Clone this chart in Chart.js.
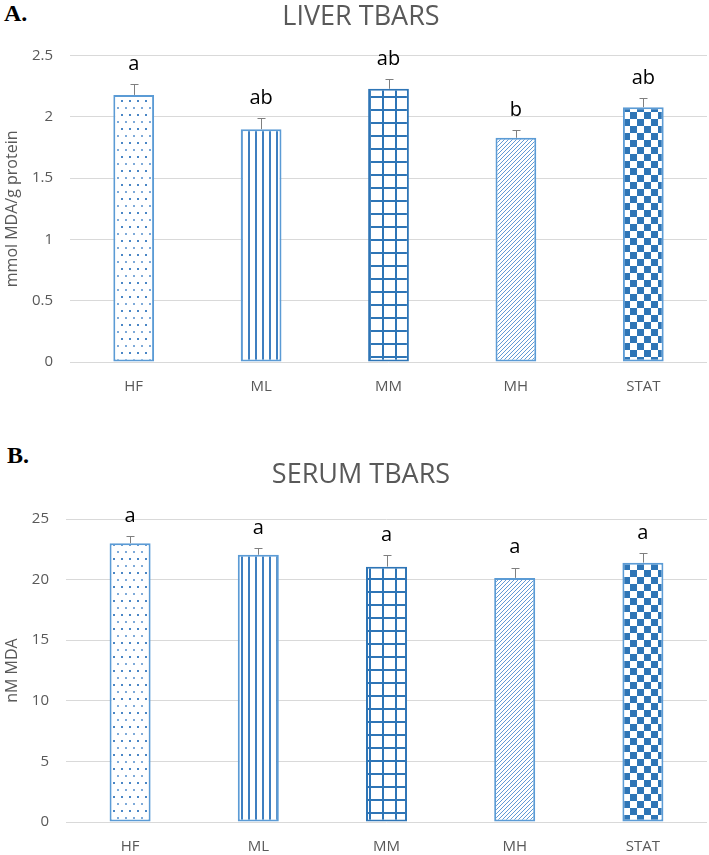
<!DOCTYPE html>
<html lang="en">
<head>
  <meta charset="UTF-8">
  <title>TBARS</title>
  <script src="https://cdn.jsdelivr.net/npm/chart.js"></script>
  <style>
    body {
      margin: 0;
      background: #fff;
      width: 709px;
      height: 855px;
      overflow: hidden;
      position: relative;
      font-family: "Open Sans", sans-serif;
    }
    .panel {
      position: absolute;
      left: 0;
      width: 709px;
    }
    .tag {
      position: absolute;
      font-family: "Liberation Serif", "Times New Roman", serif;
      font-weight: bold;
      font-size: 24px;
      line-height: 24px;
      color: #000;
    }
  </style>
</head>
<body>

<div class="tag" style="left:4px; top:1px;">A.</div>
<div class="tag" style="left:7px; top:443px;">B.</div>

<div class="panel" style="top:0; height:395px;">
  <canvas id="liverChart"></canvas>
</div>
<div class="panel" style="top:430px; height:425px;">
  <canvas id="serumChart"></canvas>
</div>

<script>
  // data
  const groups = ['HF', 'ML', 'MM', 'MH', 'STAT'];

  const liverMeans = [2.18, 1.90, 2.23, 1.83, 2.08];
  const liverErrors = [0.09, 0.09, 0.08, 0.06, 0.075];
  const liverLetters = ['a', 'ab', 'ab', 'b', 'ab'];

  const serumMeans = [23.0, 22.05, 21.07, 20.14, 21.4];
  const serumErrors = [0.6, 0.55, 0.95, 0.85, 0.77];
  const serumLetters = ['a', 'a', 'a', 'a', 'a'];

  const liverTicks = { max: 2.5, step: 0.5 };
  const serumTicks = { max: 25, step: 5 };

  const lightBlue = '#5B9BD5';
  const darkBlue = '#2E75B6';

  // fill patterns, one per group
  function makeTile(w, h, draw) {
    const c = document.createElement('canvas');
    c.width = w;
    c.height = h;
    const g = c.getContext('2d');
    g.fillStyle = '#fff';
    g.fillRect(0, 0, w, h);
    draw(g);
    return document.createElement('canvas').getContext('2d').createPattern(c, 'repeat');
  }

  function dotsPattern() {
    return makeTile(8, 14, function (g) {
      g.fillStyle = '#4A86C5';
      g.fillRect(1, 2, 2, 2);
      g.fillStyle = '#7EAAD9';
      g.fillRect(5, 9, 2, 2);
    });
  }

  function verticalPattern() {
    return makeTile(7, 7, function (g) {
      g.fillStyle = '#3F7FC0';
      g.fillRect(3, 0, 2, 7);
    });
  }

  function gridPattern() {
    return makeTile(13, 13, function (g) {
      g.fillStyle = darkBlue;
      g.fillRect(5, 0, 2, 13);
      g.fillRect(0, 5, 13, 2);
    });
  }

  function diagonalPattern() {
    return makeTile(4, 4, function (g) {
      g.strokeStyle = '#4F8FD0';
      g.lineWidth = 0.9;
      g.beginPath();
      g.moveTo(0, 4); g.lineTo(4, 0);
      g.moveTo(-1, 1); g.lineTo(1, -1);
      g.moveTo(3, 5); g.lineTo(5, 3);
      g.stroke();
    });
  }

  function checkerPattern() {
    return makeTile(14, 14, function (g) {
      g.fillStyle = darkBlue;
      g.fillRect(0, 0, 7, 7);
      g.fillRect(7, 7, 7, 7);
    });
  }

  // error bars and significance letters
  const errorBarPlugin = {
    id: 'errorBars',
    afterDatasetsDraw(chart, args, opts) {
      const ctx = chart.ctx;
      const yScale = chart.scales.y;
      const meta = chart.getDatasetMeta(0);
      ctx.save();
      meta.data.forEach(function (bar, i) {
        const x = Math.round(bar.x) + 0.5;
        const yBar = yScale.getPixelForValue(opts.means[i]);
        const yTop = yScale.getPixelForValue(opts.means[i] + opts.errors[i]);
        ctx.strokeStyle = '#7F7F7F';
        ctx.lineWidth = 1;
        ctx.beginPath();
        ctx.moveTo(x, yBar);
        ctx.lineTo(x, Math.round(yTop) + 0.5);
        ctx.moveTo(x - 4, Math.round(yTop) + 0.5);
        ctx.lineTo(x + 4, Math.round(yTop) + 0.5);
        ctx.stroke();

        ctx.fillStyle = '#000';
        ctx.font = '20px "Open Sans"';
        ctx.textAlign = 'center';
        ctx.textBaseline = 'middle';
        ctx.fillText(opts.letters[i], bar.x, yTop - 20);
      });
      ctx.restore();
    }
  };

  function buildChart(id, cfg) {
    const ctx = document.getElementById(id).getContext('2d');
    return new Chart(ctx, {
      type: 'bar',
      data: {
        labels: groups,
        datasets: [{
          data: cfg.means,
          backgroundColor: [dotsPattern(), verticalPattern(), gridPattern(), diagonalPattern(), checkerPattern()],
          borderColor: [lightBlue, lightBlue, darkBlue, lightBlue, lightBlue],
          borderWidth: 2,
          borderSkipped: false,
          barPercentage: 0.32,
          categoryPercentage: 1
        }]
      },
      options: {
        responsive: true,
        maintainAspectRatio: false,
        animation: false,
        layout: { padding: { left: 15, right: 2, top: 0, bottom: 0 } },
        plugins: {
          legend: { display: false },
          tooltip: { enabled: false },
          title: {
            display: true,
            text: cfg.title,
            color: '#595959',
            font: { family: 'Open Sans', size: 27, weight: 'normal' },
            padding: { top: cfg.titleTop, bottom: cfg.titleBottom }
          },
          errorBars: { means: cfg.means, errors: cfg.errors, letters: cfg.letters }
        },
        scales: {
          x: {
            afterFit: function (scale) { scale.height = 33; },
            grid: { display: false, drawTicks: false },
            border: { display: false },
            ticks: {
              color: '#595959',
              padding: 16,
              font: { family: 'Open Sans', size: 15 }
            }
          },
          y: {
            min: 0,
            max: cfg.ticks.max,
            afterFit: function (scale) { scale.width = cfg.axisWidth; },
            grid: { color: '#D9D9D9', drawTicks: false },
            border: { display: false },
            ticks: {
              stepSize: cfg.ticks.step,
              color: '#595959',
              padding: 17,
              font: { family: 'Open Sans', size: 15 },
              callback: function (v) { return String(Math.round(v * 10) / 10); }
            },
            title: {
              display: true,
              text: cfg.axisTitle,
              color: '#595959',
              padding: { top: -12, bottom: 0 },
              font: { family: 'Open Sans', size: 16 }
            }
          }
        }
      },
      plugins: [errorBarPlugin]
    });
  }

  buildChart('liverChart', {
    title: 'LIVER TBARS',
    axisTitle: 'mmol MDA/g protein',
    means: liverMeans,
    errors: liverErrors,
    letters: liverLetters,
    ticks: liverTicks,
    axisWidth: 55,
    titleTop: 1,
    titleBottom: 22.3
  });

  buildChart('serumChart', {
    title: 'SERUM TBARS',
    axisTitle: 'nM MDA',
    means: serumMeans,
    errors: serumErrors,
    letters: serumLetters,
    ticks: serumTicks,
    axisWidth: 51,
    titleTop: 29,
    titleBottom: 27.6
  });
</script>

</body>
</html>
